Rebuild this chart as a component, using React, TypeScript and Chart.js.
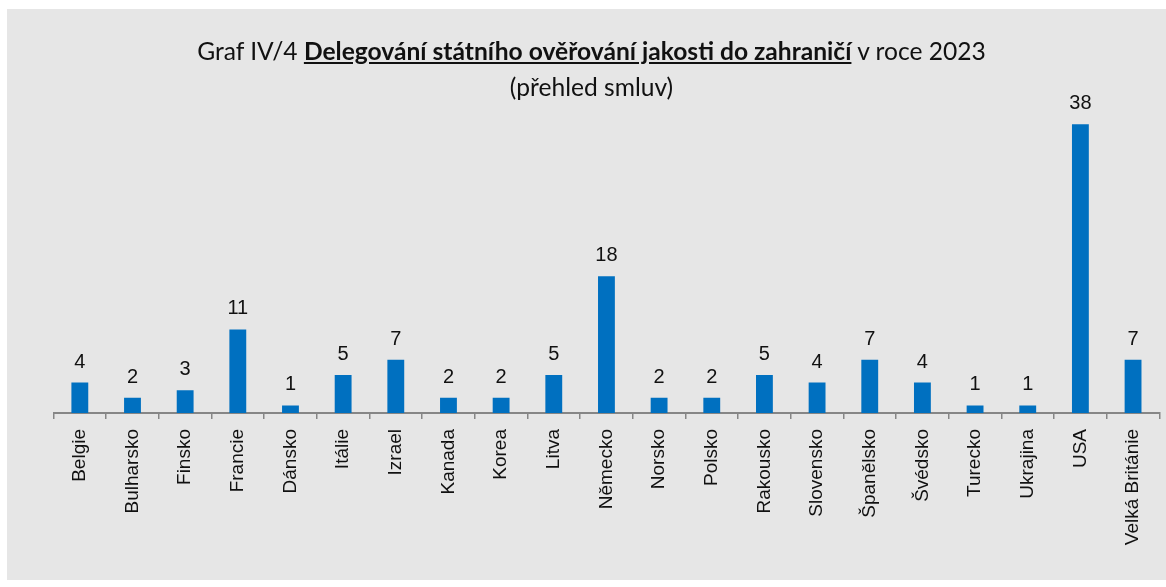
import React, { useEffect, useRef } from "react";
import { Chart, registerables } from "chart.js";

Chart.register(...registerables);

const categories = [
  "Belgie", "Bulharsko", "Finsko", "Francie", "Dánsko", "Itálie", "Izrael",
  "Kanada", "Korea", "Litva", "Německo", "Norsko", "Polsko", "Rakousko",
  "Slovensko", "Španělsko", "Švédsko", "Turecko", "Ukrajina", "USA", "Velká Británie",
];
const contracts = [4, 2, 3, 11, 1, 5, 7, 2, 2, 5, 18, 2, 2, 5, 4, 7, 4, 1, 1, 38, 7];

const titlePrefix = "Graf IV/4 ";
const titleMain = "Delegování státního ověřování jakosti do zahraničí";
const titleSuffix = " v roce 2023";
const subtitle = "(přehled smluv)";

const valueLabels = {
  id: "valueLabels",
  afterDatasetsDraw(chart: any) {
    const ctx = chart.ctx;
    const meta = chart.getDatasetMeta(0);
    const data = chart.data.datasets[0].data;
    ctx.save();
    ctx.font = "20px 'Liberation Sans', Arial, sans-serif";
    ctx.fillStyle = "#111111";
    ctx.textAlign = "center";
    ctx.textBaseline = "alphabetic";
    meta.data.forEach((bar: any, i: number) => {
      ctx.fillText(String(data[i]), bar.x, bar.y - 15);
    });
    ctx.restore();
  },
};

export default function App() {
  const canvasRef = useRef<HTMLCanvasElement | null>(null);

  useEffect(() => {
    if (!canvasRef.current) return;
    const chart = new Chart(canvasRef.current, {
      type: "bar",
      data: {
        labels: categories,
        datasets: [
          {
            data: contracts,
            backgroundColor: "#0070c0",
            categoryPercentage: 1,
            barPercentage: 0.32,
          },
        ],
      },
      options: {
        responsive: false,
        animation: false,
        layout: { padding: { left: 46.5, right: 6, top: 100, bottom: 0 } },
        plugins: {
          legend: { display: false },
          title: { display: false },
          tooltip: { enabled: false },
        },
        scales: {
          x: {
            afterFit: (s: any) => {
              s.height = 167;
            },
            grid: {
              display: true,
              drawOnChartArea: false,
              drawTicks: true,
              tickLength: 6,
              color: "#868686",
              lineWidth: 1.5,
            },
            border: { display: true, color: "#868686", width: 2 },
            ticks: {
              autoSkip: false,
              maxRotation: 90,
              minRotation: 90,
              padding: 10,
              color: "#111111",
              font: { family: "'Liberation Sans', Arial, sans-serif", size: 19 },
            },
          },
          y: {
            display: false,
            min: 0,
            max: 40,
          },
        },
      },
      plugins: [valueLabels],
    });
    return () => chart.destroy();
  }, []);

  return (
    <div
      style={{
        position: "absolute",
        left: 7,
        top: 9,
        width: 1159,
        height: 571,
        background: "#e6e6e6",
      }}
    >
      <canvas
        ref={canvasRef}
        width={1159}
        height={571}
        style={{ display: "block", position: "absolute", left: 0, top: 0 }}
      />
      <div
        style={{
          position: "absolute",
          left: 5,
          top: 24,
          width: 1159,
          textAlign: "center",
          fontFamily: "Lato, 'Open Sans', sans-serif",
          fontSize: 24.6,
          lineHeight: "36px",
          color: "#111111",
        }}
      >
        <div>
          {titlePrefix}
          <span style={{ fontWeight: 700, textDecoration: "underline" }}>{titleMain}</span>
          {titleSuffix}
        </div>
        <div>{subtitle}</div>
      </div>
    </div>
  );
}
